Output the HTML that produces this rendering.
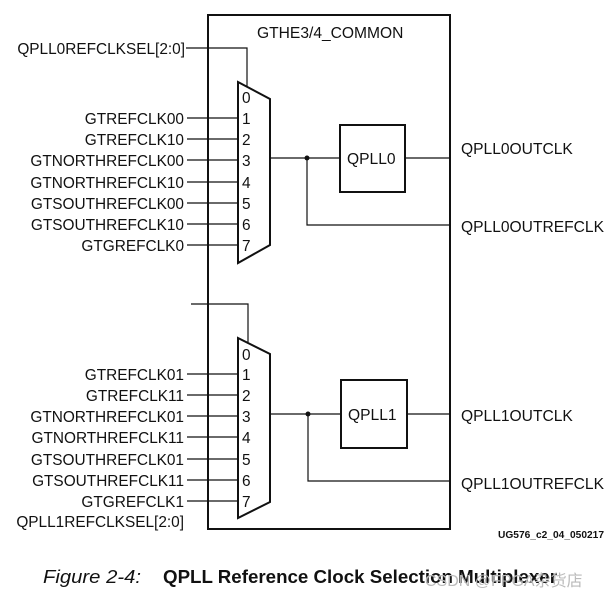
<!DOCTYPE html>
<html><head><meta charset="utf-8"><style>
html,body{margin:0;padding:0;background:#fff;width:611px;height:599px;overflow:hidden}
svg{display:block}
text{font-family:"Liberation Sans",Arial,sans-serif;fill:#111}
</style></head><body>
<svg width="611" height="599" viewBox="0 0 611 599" xmlns="http://www.w3.org/2000/svg">
<g fill="none" stroke="#111">
<rect x="208" y="15" width="242" height="514" stroke-width="2"/>
<polygon points="238,82 270,99 270,245 238,263" stroke-width="2"/>
<polyline points="186,48 247,48 247,86" stroke-width="1.2"/>
<g stroke-width="1.2">
<line x1="187" y1="118" x2="238" y2="118"/><line x1="187" y1="139" x2="238" y2="139"/>
<line x1="187" y1="160" x2="238" y2="160"/><line x1="187" y1="182" x2="238" y2="182"/>
<line x1="187" y1="203" x2="238" y2="203"/><line x1="187" y1="224" x2="238" y2="224"/>
<line x1="187" y1="245" x2="238" y2="245"/>
<line x1="270" y1="158" x2="340" y2="158"/><line x1="405" y1="158" x2="450" y2="158"/>
<polyline points="307,158 307,225 450,225"/>
</g>
<rect x="340" y="125" width="65" height="67" stroke-width="2"/>
<polygon points="238,338 270,354 270,502 238,518" stroke-width="2"/>
<polyline points="191,304 248,304 248,342" stroke-width="1.2"/>
<g stroke-width="1.2">
<line x1="187" y1="374" x2="238" y2="374"/><line x1="187" y1="395" x2="238" y2="395"/>
<line x1="187" y1="416" x2="238" y2="416"/><line x1="187" y1="437" x2="238" y2="437"/>
<line x1="187" y1="459" x2="238" y2="459"/><line x1="187" y1="480" x2="238" y2="480"/>
<line x1="187" y1="501" x2="238" y2="501"/>
<line x1="270" y1="414" x2="341" y2="414"/><line x1="407" y1="414" x2="450" y2="414"/>
<polyline points="308,414 308,481 450,481"/>
</g>
<rect x="341" y="380" width="66" height="68" stroke-width="2"/>
</g>
<circle cx="307" cy="158" r="2.5" fill="#111"/>
<circle cx="308" cy="414" r="2.5" fill="#111"/>
<g font-size="15.6">
<text x="257" y="38">GTHE3/4_COMMON</text>
<text x="347" y="164">QPLL0</text>
<text x="348" y="420">QPLL1</text>
<text x="461" y="154">QPLL0OUTCLK</text>
<text x="461" y="232">QPLL0OUTREFCLK</text>
<text x="461" y="421">QPLL1OUTCLK</text>
<text x="461" y="489">QPLL1OUTREFCLK</text>
</g>
<g font-size="15.4" text-anchor="end">
<text x="185" y="54">QPLL0REFCLKSEL[2:0]</text>
<text x="184" y="124">GTREFCLK00</text>
<text x="184" y="145">GTREFCLK10</text>
<text x="184" y="166">GTNORTHREFCLK00</text>
<text x="184" y="188">GTNORTHREFCLK10</text>
<text x="184" y="209">GTSOUTHREFCLK00</text>
<text x="184" y="230">GTSOUTHREFCLK10</text>
<text x="184" y="251">GTGREFCLK0</text>
<text x="184" y="380">GTREFCLK01</text>
<text x="184" y="401">GTREFCLK11</text>
<text x="184" y="422">GTNORTHREFCLK01</text>
<text x="184" y="443">GTNORTHREFCLK11</text>
<text x="184" y="465">GTSOUTHREFCLK01</text>
<text x="184" y="486">GTSOUTHREFCLK11</text>
<text x="184" y="507">GTGREFCLK1</text>
<text x="184" y="527">QPLL1REFCLKSEL[2:0]</text>
</g>
<g font-size="15.4">
<text x="242" y="103">0</text><text x="242" y="124">1</text><text x="242" y="145">2</text>
<text x="242" y="166">3</text><text x="242" y="188">4</text><text x="242" y="209">5</text>
<text x="242" y="230">6</text><text x="242" y="251">7</text>
<text x="242" y="360">0</text><text x="242" y="380">1</text><text x="242" y="401">2</text>
<text x="242" y="422">3</text><text x="242" y="443">4</text><text x="242" y="465">5</text>
<text x="242" y="486">6</text><text x="242" y="507">7</text>
</g>
<text x="498" y="538" font-size="10" font-weight="bold" textLength="106" lengthAdjust="spacingAndGlyphs" fill="#222">UG576_c2_04_050217</text>
<text x="43" y="583" font-size="18" font-style="italic" textLength="98" lengthAdjust="spacingAndGlyphs">Figure 2-4:</text>
<text x="163" y="583" font-size="18" font-weight="bold" textLength="394" lengthAdjust="spacingAndGlyphs">QPLL Reference Clock Selection Multiplexer</text>
<text x="425" y="586" font-size="16" style="fill:#bbb" font-family="Liberation Sans,Noto Sans CJK SC,sans-serif">CSDN @FPGA杂货店</text>
</svg>
</body></html>
